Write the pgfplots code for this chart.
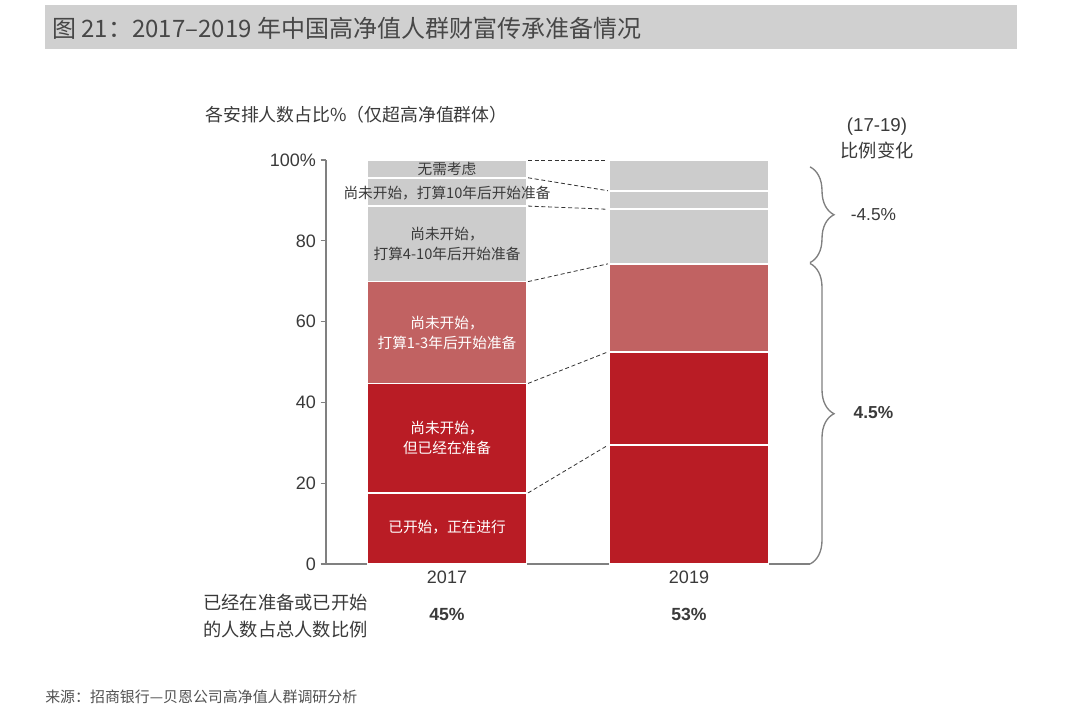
\documentclass[border=0pt]{standalone}
\usepackage{pgfplots}
\pgfplotsset{compat=1.18}
\usepackage{fontspec}
\setmainfont{Liberation Sans}
\newfontfamily\cjk{Noto Sans CJK SC}
\usetikzlibrary{decorations.pathreplacing}
\definecolor{dred}{HTML}{B91C25}
\definecolor{mred}{HTML}{C16262}
\definecolor{lgray}{HTML}{CCCCCC}
\definecolor{titlegray}{HTML}{D0D0D0}
\definecolor{txt}{HTML}{3A3A3A}
\definecolor{axc}{HTML}{808080}
\tikzset{conn/.style={densely dashed, line width=0.6pt, black!80},
  seglab/.style={align=center, inner sep=0pt, font=\cjk\fontsize{11}{15}\selectfont}}
\begin{document}
\begin{tikzpicture}
\begin{scope}[x=0.75pt,y=-0.75pt]
\path[use as bounding box] (0,0) rectangle (1080,724);
\fill[white] (0,0) rectangle (1080,724);
\fill[titlegray] (45,5) rectangle (1017,49);
\node[anchor=west, inner sep=0pt, text=black!72, font=\cjk\fontsize{18}{20}\selectfont] at (52,28) {图 21：2017–2019 年中国高净值人群财富传承准备情况};
\node[anchor=west, inner sep=0pt, text=txt, font=\cjk\fontsize{13.4}{15}\selectfont] at (205,115) {各安排人数占比\%（仅超高净值群体）};
\node[inner sep=0pt, text=txt, font=\fontsize{14}{15}\selectfont] at (877,127) {(17-19)};
\node[inner sep=0pt, text=txt, font=\cjk\fontsize{13.7}{15}\selectfont] at (877,150) {比例变化};
\node[anchor=east, inner sep=0pt, text=txt, font=\cjk\fontsize{13.7}{15}\selectfont] at (368,603) {已经在准备或已开始};
\node[anchor=east, inner sep=0pt, text=txt, font=\cjk\fontsize{13.7}{15}\selectfont] at (368,630) {的人数占总人数比例};
\node[anchor=west, inner sep=0pt, text=black!68, font=\cjk\fontsize{11.2}{13}\selectfont] at (45,697) {来源：招商银行—贝恩公司高净值人群调研分析};
\end{scope}
\begin{axis}[
  at={(244.5pt,-423pt)}, anchor=south west,
  scale only axis, width=363pt, height=303pt,
  ybar stacked, bar width=0.657,
  xmin=-0.5, xmax=1.5, ymin=0, ymax=100,
  clip=false,
  axis lines=left,
  axis line style={-, axc, line width=1pt},
  xtick={0,1}, xticklabels={2017,2019},
  xtick style={draw=none},
  ytick={0,20,40,60,80,100},
  yticklabels={0,20,40,60,80,100\%},
  ytick style={axc, line width=0.8pt},
  tick align=outside, major tick length=4pt,
  ticklabel style={text=txt, font=\fontsize{13.5}{15}\selectfont},
  xticklabel style={yshift=2pt},
]
\addplot[fill=dred, draw=white, line width=1.2pt] coordinates {(0,17.6) (1,29.4)};
\addplot[fill=dred, draw=white, line width=1.2pt] coordinates {(0,27.1) (1,23.1)};
\addplot[fill=mred, draw=white, line width=1.2pt] coordinates {(0,25.2) (1,21.8)};
\addplot[fill=lgray, draw=white, line width=1.2pt] coordinates {(0,18.7) (1,13.5)};
\addplot[fill=lgray, draw=white, line width=1.2pt] coordinates {(0,7.0) (1,4.6)};
\addplot[fill=lgray, draw=white, line width=1.2pt] coordinates {(0,4.4) (1,7.6)};

\coordinate (L1) at (axis cs:0,97.8);
\coordinate (L2) at (axis cs:0,91.9);
\coordinate (L3) at (axis cs:0,79.2);
\coordinate (L4) at (axis cs:0,57.3);
\coordinate (L5) at (axis cs:0,31.2);
\coordinate (L6) at (axis cs:0,9.1);

\draw[conn] (axis cs:0.335,100) -- (axis cs:0.665,100);
\draw[conn] (axis cs:0.335,95.6) -- (axis cs:0.665,92.4);
\draw[conn] (axis cs:0.335,88.6) -- (axis cs:0.665,87.8);
\draw[conn] (axis cs:0.335,69.9) -- (axis cs:0.665,74.3);
\draw[conn] (axis cs:0.335,44.7) -- (axis cs:0.665,52.5);
\draw[conn] (axis cs:0.335,17.6) -- (axis cs:0.665,29.4);

\draw[axc, line width=1pt, decorate, decoration={brace, amplitude=18pt}] (axis cs:1.5,98.3) -- (axis cs:1.5,74.6);
\draw[axc, line width=1pt, decorate, decoration={brace, amplitude=18pt}] (axis cs:1.5,74.4) -- (axis cs:1.5,0);
\node[text=txt, inner sep=0pt, font=\fontsize{13}{15}\selectfont] at (axis cs:1.762,86.4) {-4.5\%};
\node[text=txt, inner sep=0pt, font=\bfseries\fontsize{13}{15}\selectfont] at (axis cs:1.762,37.4) {4.5\%};

\node[text=txt, inner sep=0pt, font=\bfseries\fontsize{13.2}{15}\selectfont] at (axis cs:0,-12.6) {45\%};
\node[text=txt, inner sep=0pt, font=\bfseries\fontsize{13.2}{15}\selectfont] at (axis cs:1,-12.6) {53\%};
\end{axis}
\node[seglab, text=txt] at (L1) {无需考虑};
\node[seglab, text=txt] at (L2) {尚未开始，打算10年后开始准备};
\node[seglab, text=txt] at (L3) {尚未开始，\\打算4-10年后开始准备};
\node[seglab, text=white] at (L4) {尚未开始，\\打算1-3年后开始准备};
\node[seglab, text=white] at (L5) {尚未开始，\\但已经在准备};
\node[seglab, text=white] at (L6) {已开始，正在进行};
\end{tikzpicture}
\end{document}
